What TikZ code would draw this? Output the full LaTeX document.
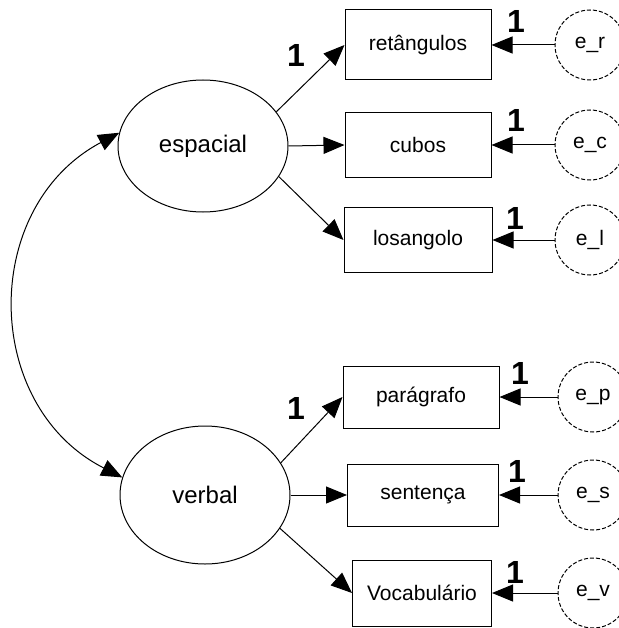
\documentclass[tikz,border=0pt]{standalone}
\usepackage{fontspec}
\setmainfont{Liberation Sans}
\usetikzlibrary{arrows.meta,shapes.geometric}
\begin{document}
\begin{tikzpicture}[x=1pt,y=1pt,
 lat/.style={draw, ellipse, line width=1pt, inner sep=0pt, font=\fontsize{24}{28}\selectfont},
 obs/.style={draw, rectangle, line width=1pt, inner sep=0pt, font=\fontsize{21}{25}\selectfont},
 err/.style={draw, circle, dash pattern=on 4pt off 2pt, line width=1pt, minimum size=70pt, inner sep=0pt, font=\fontsize{21}{25}\selectfont},
 tip/.style={Triangle[length=21pt,width=17pt]},
 arr/.style={-{Triangle[length=21pt,width=17pt]}, line width=1pt},
 one/.style={font=\fontsize{32}{32}\selectfont\bfseries, inner sep=0pt}
]
\useasboundingbox (0,0) rectangle (618,-628);
% latent variables
\node[lat, minimum width=170pt, minimum height=132pt] (esp) at (203,-146) {espacial};
\node[lat, minimum width=170pt, minimum height=138pt] (verb) at (205,-495) {verbal};
% observed
\node[obs, minimum width=146pt, minimum height=70pt] (r1) at (418,-45) {retângulos};
\node[obs, minimum width=146pt, minimum height=65pt] (r2) at (418,-145) {cubos};
\node[obs, minimum width=148pt, minimum height=64pt] (r3) at (418,-240) {losangolo};
\node[obs, minimum width=156pt, minimum height=62pt] (r4) at (421,-397) {parágrafo};
\node[obs, minimum width=151pt, minimum height=62pt] (r5) at (423,-495) {sentença};
\node[obs, minimum width=139pt, minimum height=66pt] (r6) at (422,-593) {Vocabulário};
% errors
\node[err] (er) at (590,-45) {e\_r};
\node[err] (ec) at (590,-145) {e\_c};
\node[err] (el) at (590,-240) {e\_l};
\node[err] (ep) at (593,-397) {e\_p};
\node[err] (es) at (593,-495) {e\_s};
\node[err] (ev) at (593,-593) {e\_v};
% loadings
\draw[arr] (esp.25) -- (r1.west);
\draw[arr] (esp.east) -- (r2.west);
\draw[arr] (esp.-22) -- (r3.west);
\draw[arr] (verb.23) -- (r4.west);
\draw[arr] (verb.east) -- (r5.west);
\draw[arr] (verb.-24) -- (r6.west);
% error paths
\draw[arr] (er.west) -- (r1.east);
\draw[arr] (ec.west) -- (r2.east);
\draw[arr] (el.west) -- (r3.east);
\draw[arr] (ep.west) -- (r4.east);
\draw[arr] (es.west) -- (r5.east);
\draw[arr] (ev.west) -- (r6.east);
% covariance
\draw[{Triangle[length=21pt,width=17pt]}-{Triangle[length=21pt,width=17pt]}, line width=1pt]
  (esp.171) to[out=208, in=153, looseness=1.17] (verb.168);
% labels
\node[one] (l1) at (296,-55) {1};
\node[one] (l4) at (296,-408) {1};
\node[one] (le1) at (516,-21) {1};
\node[one] (le2) at (516,-120) {1};
\node[one] (le3) at (515,-218) {1};
\node[one] (le4) at (520,-373) {1};
\node[one] (le5) at (517,-471) {1};
\node[one] (le6) at (515,-572) {1};
\end{tikzpicture}
\end{document}
